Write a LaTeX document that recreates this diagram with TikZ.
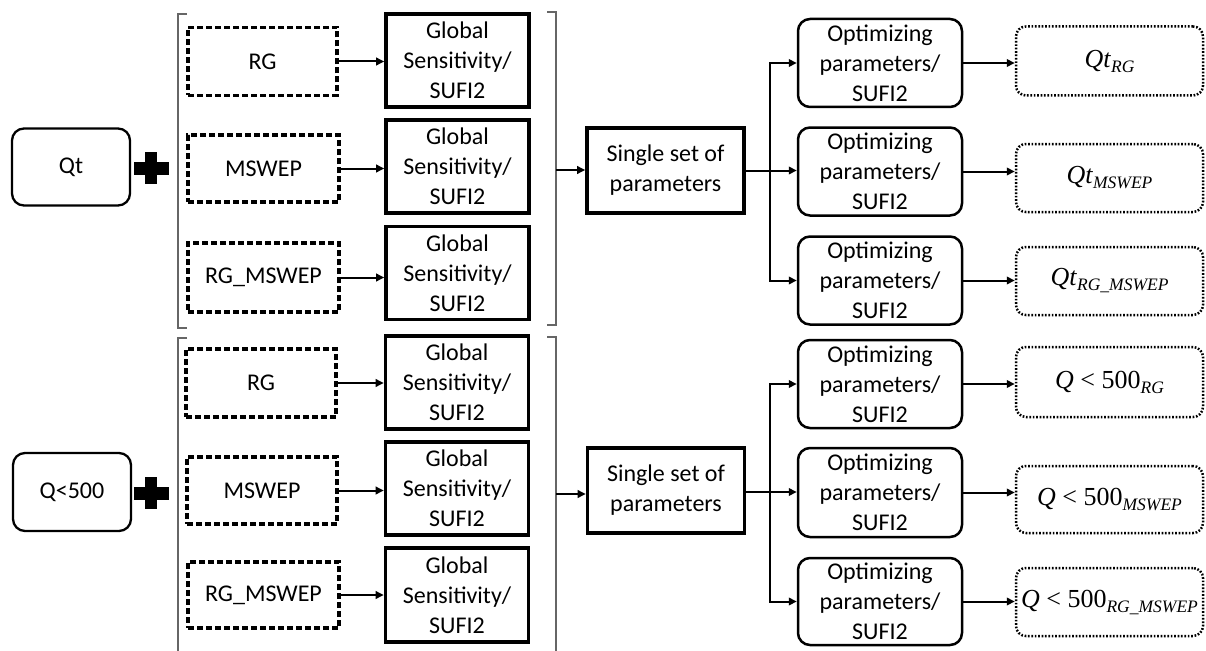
\documentclass[tikz,border=0pt]{standalone}
\usepackage{fontspec}
\setmainfont{Carlito}
\newfontfamily\mserif{Liberation Serif}
\newcommand{\msub}[1]{\raisebox{-5pt}{\fontsize{17.5}{17.5}\selectfont\itshape #1}}
\usetikzlibrary{arrows.meta,calc}
\begin{document}
\begin{tikzpicture}[x=1pt,y=-1pt,
  txt/.style={align=center,font=\fontsize{24}{30}\selectfont,inner sep=0pt},
  srcbox/.style={txt,draw,rounded corners=12pt,line width=2.3pt},
  databox/.style={txt,draw,dash pattern=on 6pt off 3pt,line width=3.2pt},
  glbox/.style={txt,draw,line width=3.6pt,minimum width=143pt,minimum height=93pt},
  setbox/.style={txt,draw,line width=3.6pt,minimum width=157pt,minimum height=85pt},
  optbox/.style={txt,draw,rounded corners=12pt,line width=2.5pt,minimum width=164pt,minimum height=88pt},
  outbox/.style={txt,draw,rounded corners=10pt,dash pattern=on 1.7pt off 1.7pt,line width=2.5pt,minimum width=187pt,minimum height=69pt,font=\mserif\fontsize{26}{30}\selectfont},
  arr/.style={line width=2pt,-{Triangle[length=8pt,width=7.5pt]}},
  brk/.style={line width=1.5pt,draw=black!60},
  plus/.style={fill=black}
]
\useasboundingbox (0,0) rectangle (1206,650);

% ---------- top half ----------
\node[srcbox,minimum width=118pt,minimum height=77pt] (qt) at (71,167) {Qt};
\fill[plus] (145,152) rectangle (157,184);
\fill[plus] (134,162) rectangle (169,175);

\coordinate (lb1t) at (178,14);
\coordinate (lb1b) at (178,328);
\draw[brk] ($(lb1t)+(9,0)$) -- (lb1t) -- (lb1b) -- ($(lb1b)+(9,0)$);

\node[databox,minimum width=149pt,minimum height=68pt] (rg1) at (262.5,61.5) {RG};
\node[databox,minimum width=151pt,minimum height=67pt] (ms1) at (263.5,168.5) {MSWEP};
\node[databox,minimum width=151pt,minimum height=69pt] (rm1) at (263.5,277.5) {RG\_MSWEP};

\node[glbox] (g1a) at (457.5,60.5) {Global\\Sensitivity/\\SUFI2};
\node[glbox] (g1b) at (457.5,166.5) {Global\\Sensitivity/\\SUFI2};
\node[glbox] (g1c) at (457.5,273) {Global\\Sensitivity/\\SUFI2};

\draw[arr] (rg1.east) -- (rg1.east -| g1a.west);
\draw[arr] (ms1.east) -- (ms1.east -| g1b.west);
\draw[arr] (rm1.east) -- (rm1.east -| g1c.west);

\coordinate (rb1t) at (556,12);
\coordinate (rb1b) at (556,325);
\coordinate (rb1m) at (556,170);
\draw[brk] ($(rb1t)+(-9,0)$) -- (rb1t) -- (rb1b) -- ($(rb1b)+(-9,0)$);

\node[setbox] (s1) at (665.5,170.5) {Single set of\\parameters};
\draw[arr] (rb1m) -- (rb1m -| s1.west);

\node[optbox] (o1a) at (880,63) {Optimizing\\parameters/\\SUFI2};
\node[optbox] (o1b) at (880,171.5) {Optimizing\\parameters/\\SUFI2};
\node[optbox] (o1c) at (880,280.5) {Optimizing\\parameters/\\SUFI2};

\coordinate (br1) at (770,170.5);
\draw[line width=2pt] (s1.east) -- (br1);
\draw[arr] (br1) |- (o1a.west);
\draw[arr] (br1) -- (br1 -| o1b.west);
\draw[arr] (br1) |- (o1c.west);

\node[outbox] (d1a) at (1109.5,61) {\textit{Qt}\msub{RG}};
\node[outbox,minimum height=68pt] (d1b) at (1109.5,178) {\textit{Qt}\msub{MSWEP}};
\node[outbox,minimum height=68pt] (d1c) at (1109.5,281) {\textit{Qt}\msub{RG\_MSWEP}};

\draw[arr] (o1a.east) -- (o1a.east -| d1a.west);
\draw[arr] (o1b.east) -- (o1b.east -| d1b.west);
\draw[arr] (o1c.east) -- (o1c.east -| d1c.west);

% ---------- bottom half ----------
\node[srcbox,minimum width=118pt,minimum height=78pt] (q5) at (72,492) {Q<500};
\fill[plus] (145,477) rectangle (157,509);
\fill[plus] (134,487) rectangle (169,500);

\coordinate (lb2t) at (178,338);
\coordinate (lb2b) at (178,652);
\draw[brk] ($(lb2t)+(9,0)$) -- (lb2t) -- (lb2b);

\node[databox,minimum width=150pt,minimum height=68pt] (rg2) at (261,383) {RG};
\node[databox,minimum width=150pt,minimum height=67pt] (ms2) at (262,490.5) {MSWEP};
\node[databox,minimum width=151pt,minimum height=66pt] (rm2) at (263.5,595) {RG\_MSWEP};

\node[glbox] (g2a) at (457,382.5) {Global\\Sensitivity/\\SUFI2};
\node[glbox] (g2b) at (457,488.5) {Global\\Sensitivity/\\SUFI2};
\node[glbox,minimum height=94pt] (g2c) at (457,595) {Global\\Sensitivity/\\SUFI2};

\draw[arr] (rg2.east) -- (rg2.east -| g2a.west);
\draw[arr] (ms2.east) -- (ms2.east -| g2b.west);
\draw[arr] (rm2.east) -- (rm2.east -| g2c.west);

\coordinate (rb2t) at (556,337);
\coordinate (rb2b) at (556,652);
\coordinate (rb2m) at (556,494);
\draw[brk] ($(rb2t)+(-9,0)$) -- (rb2t) -- (rb2b);

\node[setbox] (s2) at (666,490.5) {Single set of\\parameters};
\draw[arr] (rb2m) -- (rb2m -| s2.west);

\node[optbox] (o2a) at (880,384) {Optimizing\\parameters/\\SUFI2};
\node[optbox,minimum height=89pt] (o2b) at (880,492.5) {Optimizing\\parameters/\\SUFI2};
\node[optbox,minimum height=87pt] (o2c) at (880,601.5) {Optimizing\\parameters/\\SUFI2};

\coordinate (br2) at (770,492);
\draw[line width=2pt] (s2.east |- br2) -- (br2);
\draw[arr] (br2) |- (o2a.west);
\draw[arr] (br2) -- (br2 -| o2b.west);
\draw[arr] (br2) |- (o2c.west);

\node[outbox,minimum height=70pt] (d2a) at (1109.5,382) {\textit{Q} < 500\msub{RG}};
\node[outbox,minimum height=67pt] (d2b) at (1109.5,499.5) {\textit{Q} < 500\msub{MSWEP}};
\node[outbox,minimum height=68pt] (d2c) at (1109.5,602) {\textit{Q} < 500\msub{RG\_MSWEP}};

\draw[arr] (o2a.east) -- (o2a.east -| d2a.west);
\draw[arr] (o2b.east) -- (o2b.east -| d2b.west);
\draw[arr] (o2c.east) -- (o2c.east -| d2c.west);
\end{tikzpicture}
\end{document}
